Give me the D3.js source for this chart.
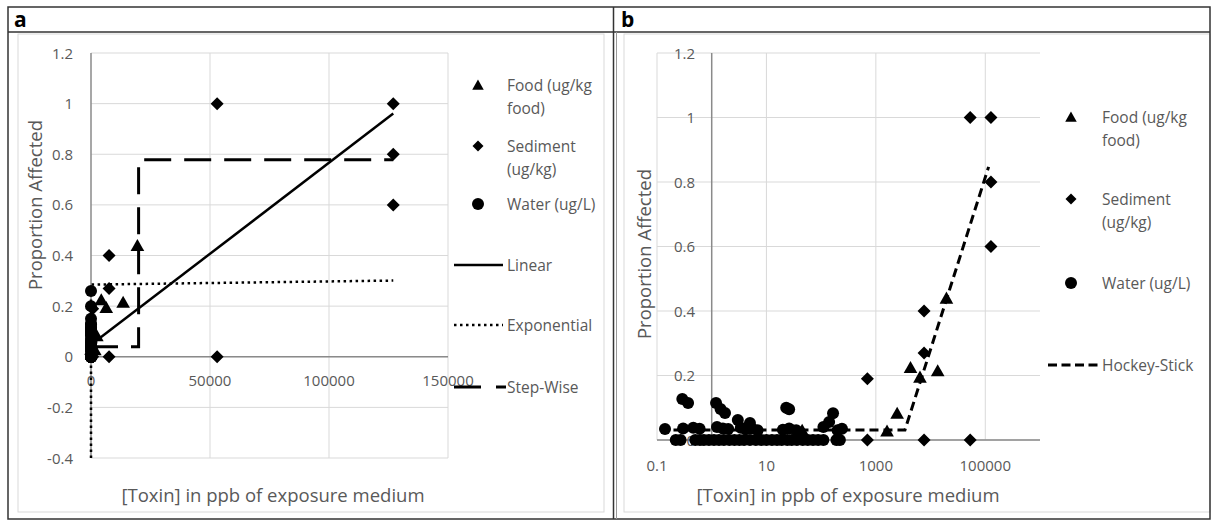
<!DOCTYPE html>
<html><head><meta charset="utf-8">
<script src="https://cdn.jsdelivr.net/npm/d3@7"></script>
<style>
body{margin:0;background:#fff;}
svg{display:block;font-family:"Open Sans",sans-serif;}
</style></head><body>
<svg id="fig" width="1213" height="523"></svg>
<script>
// Observations: [concentration (ppb), proportion affected]
const foodPoints = [[45,0.03],[1600,0.028],[2450,0.083],[4300,0.225],[6400,0.195],[13500,0.215],[19500,0.44]];
const sedimentPoints = [[700,0.19],[700,0],[7600,0.4],[7600,0.27],[7600,0],[53000,1],[53000,0],[127000,1],[127000,0.8],[127000,0.6]];
const waterPoints = [
  [0,0.26],[0,0.2],[0,0.15],[0,0.13],[0,0.11],[0,0.09],[0,0.07],[0,0.05],[0,0.02],[0,0],
  [0.29,0.127],[0.37,0.115],[1.2,0.115],[1.45,0.096],[1.75,0.084],[3.0,0.062],[5.0,0.053],
  [23,0.1],[26,0.095],[165,0.083],[140,0.056],
  [0.14,0.034],[0.3,0.036],[0.46,0.038],[0.6,0.035],[1.25,0.04],[1.6,0.036],[2.0,0.034],
  [3.4,0.038],[4.2,0.033],[5.4,0.036],[6.9,0.03],[20,0.032],[26,0.036],[35,0.03],
  [110,0.04],[200,0.03],[240,0.035],
  [0.22,0],[0.27,0],[0.5,0],[0.61,0],[0.72,0],[0.89,0],[1.1,0],[1.36,0],[1.67,0],[2.1,0],
  [2.6,0],[3.2,0],[3.9,0],[5,0],[6.4,0],[8,0],[10,0],[12.6,0],[15.6,0],[19,0],[24,0],
  [29,0],[36,0],[46,0],[57,0],[71,0],[88,0],[110,0],[190,0],[220,0]
];

// Fitted dose-response models
const linearFit = [[0,0.047],[127000,0.961]];
const exponentialFit = [[0,-0.4],[0,0.285],[127000,0.301]];
const stepFit = [[0,0.04],[20000,0.04],[20000,0.778],[127000,0.778]];
const hockeyStickFit = [[0.2,0.031],[3400,0.031],[115000,0.847]];

// Axis ticks
const yTicksA = [-0.4,-0.2,0,0.2,0.4,0.6,0.8,1,1.2];
const xTicksA = [0,50000,100000,150000];
const yTicksB = [0,0.2,0.4,0.6,0.8,1,1.2];
const xTicksB = [0.1,10,1000,100000];

const svg = d3.select("#fig");
const GRID = "#d9d9d9", AXIS = "#8a8a8a", TXT = "#595959";
const fmt = v => String(+v.toFixed(1));

// Frame
svg.append("rect").attr("x",18).attr("y",34).attr("width",586).attr("height",478).attr("fill","none").attr("stroke",GRID);
svg.append("rect").attr("x",624).attr("y",34).attr("width",586).attr("height",478).attr("fill","none").attr("stroke",GRID);
svg.append("rect").attr("x",8).attr("y",7).attr("width",1202).attr("height",512).attr("fill","none").attr("stroke","#333").attr("stroke-width",1.5);
svg.append("line").attr("x1",8).attr("x2",1210).attr("y1",32).attr("y2",32).attr("stroke","#333").attr("stroke-width",1.5);
svg.append("line").attr("x1",613.5).attr("x2",613.5).attr("y1",7).attr("y2",519).attr("stroke","#333").attr("stroke-width",1.5);
svg.append("line").attr("x1",616.5).attr("x2",616.5).attr("y1",32).attr("y2",519).attr("stroke","#999").attr("stroke-width",1);
svg.append("text").attr("x",14).attr("y",27).attr("font-size",21).attr("font-weight","bold").attr("fill","#000").text("a");
svg.append("text").attr("x",621).attr("y",27).attr("font-size",21).attr("font-weight","bold").attr("fill","#000").text("b");

// Marker shapes
const diamond = s => `M0,${-s}L${s},0L0,${s}L${-s},0Z`;
const triangle = s => `M0,${-s}L${s*1.05},${s*0.85}L${-s*1.05},${s*0.85}Z`;

function drawMarkers(g, x, y, food, sed, water, r) {
  g.append("g").selectAll("path").data(food).join("path")
    .attr("d", triangle(r+0.5)).attr("transform", d => `translate(${x(d[0])},${y(d[1])})`).attr("fill","#000");
  g.append("g").selectAll("path").data(sed).join("path")
    .attr("d", diamond(r+0.5)).attr("transform", d => `translate(${x(d[0])},${y(d[1])})`).attr("fill","#000");
  g.append("g").selectAll("circle").data(water).join("circle")
    .attr("cx", d => x(d[0])).attr("cy", d => y(d[1])).attr("r", r).attr("fill","#000");
}

function fitLine(g, x, y, pts, dash, w, cap) {
  g.append("path").datum(pts)
    .attr("d", d3.line().x(d => x(d[0])).y(d => y(d[1])))
    .attr("fill","none").attr("stroke","#000").attr("stroke-width",w)
    .attr("stroke-dasharray",dash).attr("stroke-linecap",cap||"butt");
}

function legend(g, lx, tx, items) {
  items.forEach(it => {
    if (it.kind === "tri") g.append("path").attr("d", triangle(5.5)).attr("transform",`translate(${lx},${it.y})`).attr("fill","#000");
    if (it.kind === "dia") g.append("path").attr("d", diamond(5.5)).attr("transform",`translate(${lx},${it.y})`).attr("fill","#000");
    if (it.kind === "cir") g.append("circle").attr("cx",lx).attr("cy",it.y).attr("r",6).attr("fill","#000");
    if (it.kind === "line") g.append("line").attr("x1",it.x1).attr("x2",it.x2).attr("y1",it.y).attr("y2",it.y)
        .attr("stroke","#000").attr("stroke-width",it.w).attr("stroke-dasharray",it.dash);
    const t = g.append("text").attr("x",tx).attr("y",it.y+5.5).attr("font-size",15.5).attr("fill",TXT);
    it.lines.forEach((s,i) => t.append("tspan").attr("x",tx).attr("dy", i ? 23 : 0).text(s));
  });
}

// ---------- Panel a: linear concentration axis ----------
{
  const g = svg.append("g");
  const x = d3.scaleLinear().domain([0,150000]).range([91,448]);
  const y = d3.scaleLinear().domain([-0.4,1.2]).range([458,53]);
  g.append("g").selectAll("line").data(yTicksA).join("line")
    .attr("x1",91).attr("x2",448).attr("y1",d=>y(d)).attr("y2",d=>y(d)).attr("stroke",GRID);
  g.append("g").selectAll("line").data(xTicksA.slice(1)).join("line")
    .attr("x1",d=>x(d)).attr("x2",d=>x(d)).attr("y1",53).attr("y2",458).attr("stroke",GRID);
  g.append("line").attr("x1",91).attr("x2",448).attr("y1",y(0)).attr("y2",y(0)).attr("stroke",AXIS).attr("stroke-width",1.5);
  g.append("line").attr("x1",91).attr("x2",91).attr("y1",53).attr("y2",458).attr("stroke",AXIS).attr("stroke-width",1.5);
  g.append("g").selectAll("text").data(yTicksA).join("text")
    .attr("x",73).attr("y",d=>y(d)+5.5).attr("text-anchor","end").attr("font-size",15).attr("fill",TXT).text(fmt);
  g.append("g").selectAll("text").data(xTicksA).join("text")
    .attr("x",d=>x(d)).attr("y",y(0)+29).attr("text-anchor","middle").attr("font-size",15).attr("fill",TXT).text(d=>String(d));
  g.append("text").attr("transform","translate(42,205) rotate(-90)").attr("text-anchor","middle")
    .attr("font-size",18.5).attr("fill",TXT).text("Proportion Affected");
  g.append("text").attr("x",273).attr("y",502).attr("text-anchor","middle")
    .attr("font-size",18.5).attr("fill",TXT).text("[Toxin] in ppb of exposure medium");
  drawMarkers(g, x, y, foodPoints, sedimentPoints, waterPoints, 6);
  fitLine(g, x, y, linearFit, null, 2.5);
  fitLine(g, x, y, exponentialFit, "2.5,3.5", 2.5);
  fitLine(g, x, y, stepFit, "27,13", 3);
  legend(g, 478, 507, [
    {kind:"tri", y:85, lines:["Food (ug/kg","food)"]},
    {kind:"dia", y:146, lines:["Sediment","(ug/kg)"]},
    {kind:"cir", y:204, lines:["Water (ug/L)"]},
    {kind:"line", y:265, x1:454, x2:503, w:2.5, dash:null, lines:["Linear"]},
    {kind:"line", y:325, x1:454, x2:503, w:2.5, dash:"2.5,3.5", lines:["Exponential"]},
    {kind:"line", y:387, x1:454, x2:506, w:3, dash:"27,15", lines:["Step-Wise"]}
  ]);
}

// ---------- Panel b: logarithmic concentration axis ----------
{
  const g = svg.append("g");
  const x = d3.scaleLog().domain([0.1,1e6]).range([657,1040]);
  const y = d3.scaleLinear().domain([0,1.2]).range([440,53]);
  g.append("g").selectAll("line").data(yTicksB).join("line")
    .attr("x1",657).attr("x2",1040).attr("y1",d=>y(d)).attr("y2",d=>y(d)).attr("stroke",GRID);
  g.append("g").selectAll("line").data(xTicksB).join("line")
    .attr("x1",d=>x(d)).attr("x2",d=>x(d)).attr("y1",53).attr("y2",440).attr("stroke",GRID);
  g.append("line").attr("x1",657).attr("x2",1040).attr("y1",y(0)).attr("y2",y(0)).attr("stroke",AXIS).attr("stroke-width",1.5);
  g.append("line").attr("x1",x(1)).attr("x2",x(1)).attr("y1",53).attr("y2",440).attr("stroke",AXIS).attr("stroke-width",1.5);
  g.append("g").selectAll("text").data(yTicksB).join("text")
    .attr("x",695).attr("y",d=>y(d)+5.5).attr("text-anchor","end").attr("font-size",15).attr("fill",TXT).text(fmt);
  g.append("g").selectAll("text").data(xTicksB).join("text")
    .attr("x",d=>x(d)).attr("y",471).attr("text-anchor","middle").attr("font-size",15).attr("fill",TXT).text(d=>String(d));
  g.append("text").attr("transform","translate(651,254) rotate(-90)").attr("text-anchor","middle")
    .attr("font-size",18.5).attr("fill",TXT).text("Proportion Affected");
  g.append("text").attr("x",848).attr("y",502).attr("text-anchor","middle")
    .attr("font-size",18.5).attr("fill",TXT).text("[Toxin] in ppb of exposure medium");
  drawMarkers(g, x, y, foodPoints, sedimentPoints, waterPoints.filter(d => d[0] > 0), 6);
  fitLine(g, x, y, hockeyStickFit, "9,5", 3);
  legend(g, 1071, 1102, [
    {kind:"tri", y:117, lines:["Food (ug/kg","food)"]},
    {kind:"dia", y:199, lines:["Sediment","(ug/kg)"]},
    {kind:"cir", y:283, lines:["Water (ug/L)"]},
    {kind:"line", y:365, x1:1048, x2:1098, w:3, dash:"9,4.5", lines:["Hockey-Stick"]}
  ]);
}
</script>
</body></html>
